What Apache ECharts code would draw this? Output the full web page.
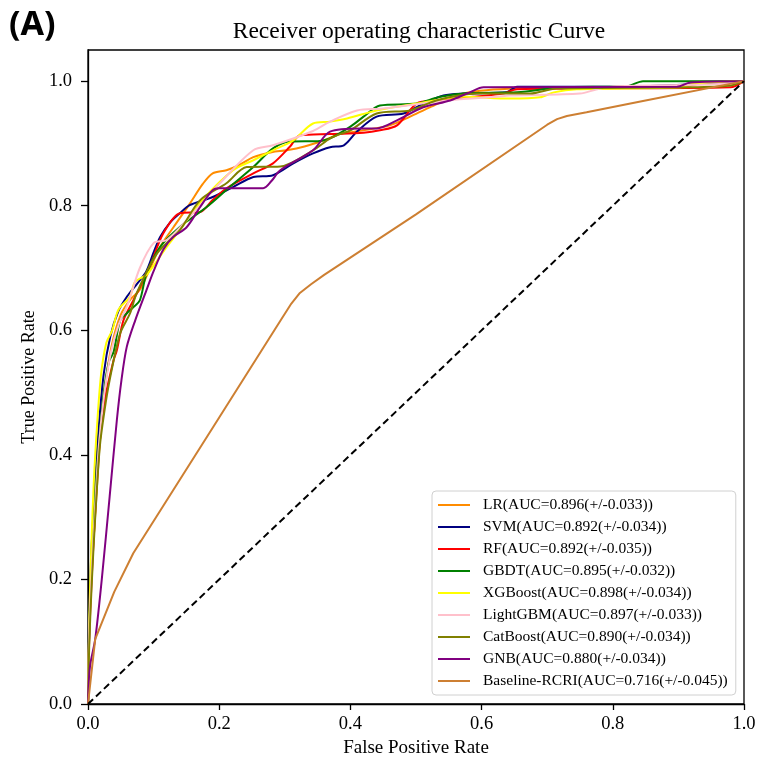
<!DOCTYPE html>
<html>
<head>
<meta charset="utf-8">
<script src="https://cdn.jsdelivr.net/npm/echarts@6/dist/echarts.min.js"></script>
<style>html,body{margin:0;padding:0;background:#fff}#c{width:761px;height:765px}</style>
</head>
<body>
<div id="c"></div>
<script>
const seriesNames = ['LR(AUC=0.896(+/-0.033))','SVM(AUC=0.892(+/-0.034))','RF(AUC=0.892(+/-0.035))','GBDT(AUC=0.895(+/-0.032))','XGBoost(AUC=0.898(+/-0.034))','LightGBM(AUC=0.897(+/-0.033))','CatBoost(AUC=0.890(+/-0.034))','GNB(AUC=0.880(+/-0.034))','Baseline-RCRI(AUC=0.716(+/-0.045))'];
const seriesColors = ['#ff8c00','#000080','#ff0000','#008000','#ffff00','#ffc0cb','#808000','#800080','#cd7f32'];
const xTicks = [0,0.2,0.4,0.6,0.8,1.0];
const yTicks = [0,0.2,0.4,0.6,0.8,1.0];

const lrPoints = [[0,0],[0.002,0.12],[0.006,0.22],[0.012,0.32],[0.018,0.42],[0.026,0.51],[0.036,0.575],[0.05,0.625],[0.065,0.65],[0.079,0.665],[0.095,0.7],[0.11,0.734],[0.13,0.765],[0.155,0.803],[0.175,0.835],[0.19,0.852],[0.211,0.857],[0.23,0.865],[0.252,0.878],[0.28,0.886],[0.303,0.889],[0.33,0.895],[0.36,0.905],[0.384,0.915],[0.42,0.921],[0.46,0.929],[0.491,0.943],[0.521,0.958],[0.572,0.98],[0.654,0.988],[0.9,0.99],[0.942,0.998],[1,1]];
const svmPoints = [[0,0],[0.002,0.13],[0.005,0.24],[0.01,0.34],[0.016,0.44],[0.024,0.53],[0.034,0.59],[0.046,0.63],[0.06,0.655],[0.075,0.675],[0.089,0.695],[0.1,0.725],[0.11,0.75],[0.125,0.773],[0.14,0.788],[0.155,0.801],[0.19,0.814],[0.221,0.83],[0.252,0.846],[0.282,0.849],[0.313,0.868],[0.343,0.884],[0.369,0.894],[0.39,0.897],[0.41,0.919],[0.44,0.943],[0.481,0.948],[0.511,0.964],[0.542,0.977],[0.572,0.98],[0.638,0.982],[0.654,0.991],[0.8,0.991],[1,1]];
const rfPoints = [[0,0],[0.002,0.11],[0.006,0.21],[0.011,0.31],[0.017,0.41],[0.026,0.49],[0.039,0.552],[0.044,0.568],[0.054,0.616],[0.069,0.648],[0.079,0.669],[0.095,0.705],[0.115,0.756],[0.14,0.788],[0.171,0.79],[0.19,0.809],[0.211,0.828],[0.252,0.852],[0.282,0.868],[0.308,0.895],[0.323,0.913],[0.369,0.915],[0.42,0.917],[0.445,0.921],[0.471,0.929],[0.501,0.964],[0.531,0.969],[0.587,0.975],[0.633,0.98],[0.654,0.987],[0.979,0.99],[1,1]];
const gbdtPoints = [[0,0],[0.002,0.12],[0.005,0.22],[0.01,0.32],[0.016,0.41],[0.024,0.5],[0.032,0.55],[0.039,0.565],[0.049,0.616],[0.059,0.627],[0.069,0.637],[0.079,0.648],[0.089,0.69],[0.11,0.734],[0.14,0.766],[0.181,0.798],[0.216,0.83],[0.252,0.862],[0.282,0.892],[0.308,0.903],[0.354,0.904],[0.369,0.908],[0.4,0.927],[0.42,0.943],[0.445,0.961],[0.501,0.964],[0.537,0.975],[0.582,0.981],[0.654,0.982],[0.72,0.99],[0.822,0.992],[0.846,1.0],[1,1]];
const xgbPoints = [[0,0],[0.002,0.14],[0.005,0.25],[0.009,0.36],[0.014,0.45],[0.02,0.53],[0.028,0.58],[0.037,0.6],[0.044,0.627],[0.049,0.637],[0.064,0.654],[0.072,0.678],[0.09,0.69],[0.12,0.734],[0.14,0.761],[0.175,0.81],[0.221,0.857],[0.252,0.873],[0.282,0.889],[0.313,0.905],[0.343,0.932],[0.369,0.935],[0.395,0.94],[0.44,0.953],[0.501,0.964],[0.572,0.975],[0.643,0.972],[0.689,0.974],[0.71,0.982],[0.745,0.987],[0.903,0.99],[0.923,0.996],[1,1]];
const lgbmPoints = [[0,0],[0.002,0.12],[0.006,0.22],[0.011,0.32],[0.017,0.42],[0.025,0.5],[0.035,0.565],[0.047,0.61],[0.06,0.64],[0.079,0.7],[0.1,0.74],[0.12,0.745],[0.155,0.782],[0.201,0.836],[0.252,0.889],[0.282,0.897],[0.343,0.92],[0.369,0.935],[0.41,0.953],[0.45,0.956],[0.547,0.969],[0.623,0.975],[0.643,0.977],[0.75,0.98],[0.776,0.987],[0.806,0.992],[0.953,0.995],[1,1]];
const catPoints = [[0,0],[0.002,0.1],[0.006,0.2],[0.011,0.3],[0.018,0.413],[0.025,0.47],[0.033,0.52],[0.049,0.595],[0.064,0.627],[0.074,0.659],[0.105,0.723],[0.14,0.761],[0.171,0.809],[0.211,0.836],[0.242,0.862],[0.293,0.863],[0.343,0.889],[0.369,0.908],[0.384,0.915],[0.4,0.921],[0.44,0.948],[0.491,0.953],[0.531,0.969],[0.592,0.98],[0.674,0.98],[0.714,0.988],[0.918,0.99],[0.98,0.993],[1,1]];
const gnbPoints = [[0,0],[0.003,0.06],[0.011,0.104],[0.021,0.2],[0.033,0.333],[0.044,0.456],[0.051,0.52],[0.059,0.573],[0.072,0.616],[0.089,0.664],[0.1,0.695],[0.115,0.73],[0.13,0.75],[0.15,0.765],[0.171,0.798],[0.19,0.825],[0.2,0.828],[0.267,0.828],[0.28,0.84],[0.293,0.857],[0.343,0.889],[0.369,0.919],[0.415,0.924],[0.44,0.924],[0.471,0.937],[0.511,0.958],[0.552,0.969],[0.582,0.982],[0.603,0.99],[0.898,0.991],[0.918,0.998],[1,1]];
const rcriPoints = [[0,0],[0.011,0.104],[0.04,0.18],[0.069,0.242],[0.2,0.46],[0.293,0.615],[0.31,0.643],[0.323,0.66],[0.34,0.674],[0.36,0.689],[0.5,0.786],[0.7,0.93],[0.715,0.939],[0.73,0.944],[0.76,0.95],[0.846,0.968],[1,1]];
const chancePoints = [[0,0],[1,1]];

const curves = [lrPoints, svmPoints, rfPoints, gbdtPoints, xgbPoints, lgbmPoints, catPoints, gnbPoints, rcriPoints];

const serif = 'Liberation Serif';
const chart = echarts.init(document.getElementById('c'), null, {renderer: 'canvas'});
const series = curves.map((pts, i) => ({
  name: seriesNames[i],
  type: 'line',
  data: pts,
  showSymbol: false,
  symbol: 'none',
  smooth: i === 8 ? false : 0.3,
  lineStyle: {color: seriesColors[i], width: 2},
  itemStyle: {color: seriesColors[i]},
  z: 2 + i
}));
series.push({
  name: 'chance',
  type: 'line',
  data: chancePoints,
  symbol: 'none',
  lineStyle: {color: '#000', width: 2, type: [7, 4]},
  z: 20
});

chart.setOption({
  animation: false,
  backgroundColor: '#fff',
  title: {
    text: 'Receiver operating characteristic Curve',
    left: 414, top: 15, textAlign: 'center',
    textStyle: {fontFamily: serif, fontSize: 23.5, fontWeight: 'normal', color: '#000'}
  },
  graphic: [{
    type: 'text', left: 9, top: 8,
    style: {text: '(A)', font: 'bold 34px "Noto Sans"', fill: '#000'}
  }],
  grid: {left: 88, right: 17, top: 50, bottom: 61, show: true, borderColor: '#000', borderWidth: 1.3, backgroundColor: '#fff'},
  legend: {
    orient: 'vertical', left: 432, top: 491,
    data: seriesNames,
    icon: 'rect', itemWidth: 32, itemHeight: 2, itemGap: 6,
    padding: [6, 8, 6, 6],
    backgroundColor: '#fff', borderColor: '#d0d0d0', borderWidth: 1, borderRadius: 4,
    textStyle: {fontFamily: serif, fontSize: 15.5, color: '#000', lineHeight: 16, padding: [0, 0, 0, 8]}
  },
  xAxis: {
    type: 'value', min: 0, max: 1, interval: 0.2,
    name: 'False Positive Rate', nameLocation: 'middle', nameGap: 30,
    nameTextStyle: {fontFamily: serif, fontSize: 19, color: '#000'},
    axisLine: {show: true, lineStyle: {color: '#000', width: 1.3}},
    axisTick: {show: true, inside: false, length: 6, lineStyle: {color: '#000', width: 1.3}, customValues: xTicks},
    axisLabel: {fontFamily: serif, fontSize: 18.5, color: '#000', margin: 11, customValues: xTicks, formatter: v => v.toFixed(1)},
    splitLine: {show: false}
  },
  yAxis: {
    type: 'value', min: 0, max: 1.05,
    name: 'True Positive Rate', nameLocation: 'middle', nameGap: 43,
    nameTextStyle: {fontFamily: serif, fontSize: 18, color: '#000'},
    axisLine: {show: true, lineStyle: {color: '#000', width: 1.3}},
    axisTick: {show: true, inside: false, length: 7, lineStyle: {color: '#000', width: 1.3}, customValues: yTicks},
    axisLabel: {fontFamily: serif, fontSize: 18.5, color: '#000', margin: 16, customValues: yTicks, formatter: v => v.toFixed(1)},
    splitLine: {show: false}
  },
  series: series
});
</script>
</body>
</html>
